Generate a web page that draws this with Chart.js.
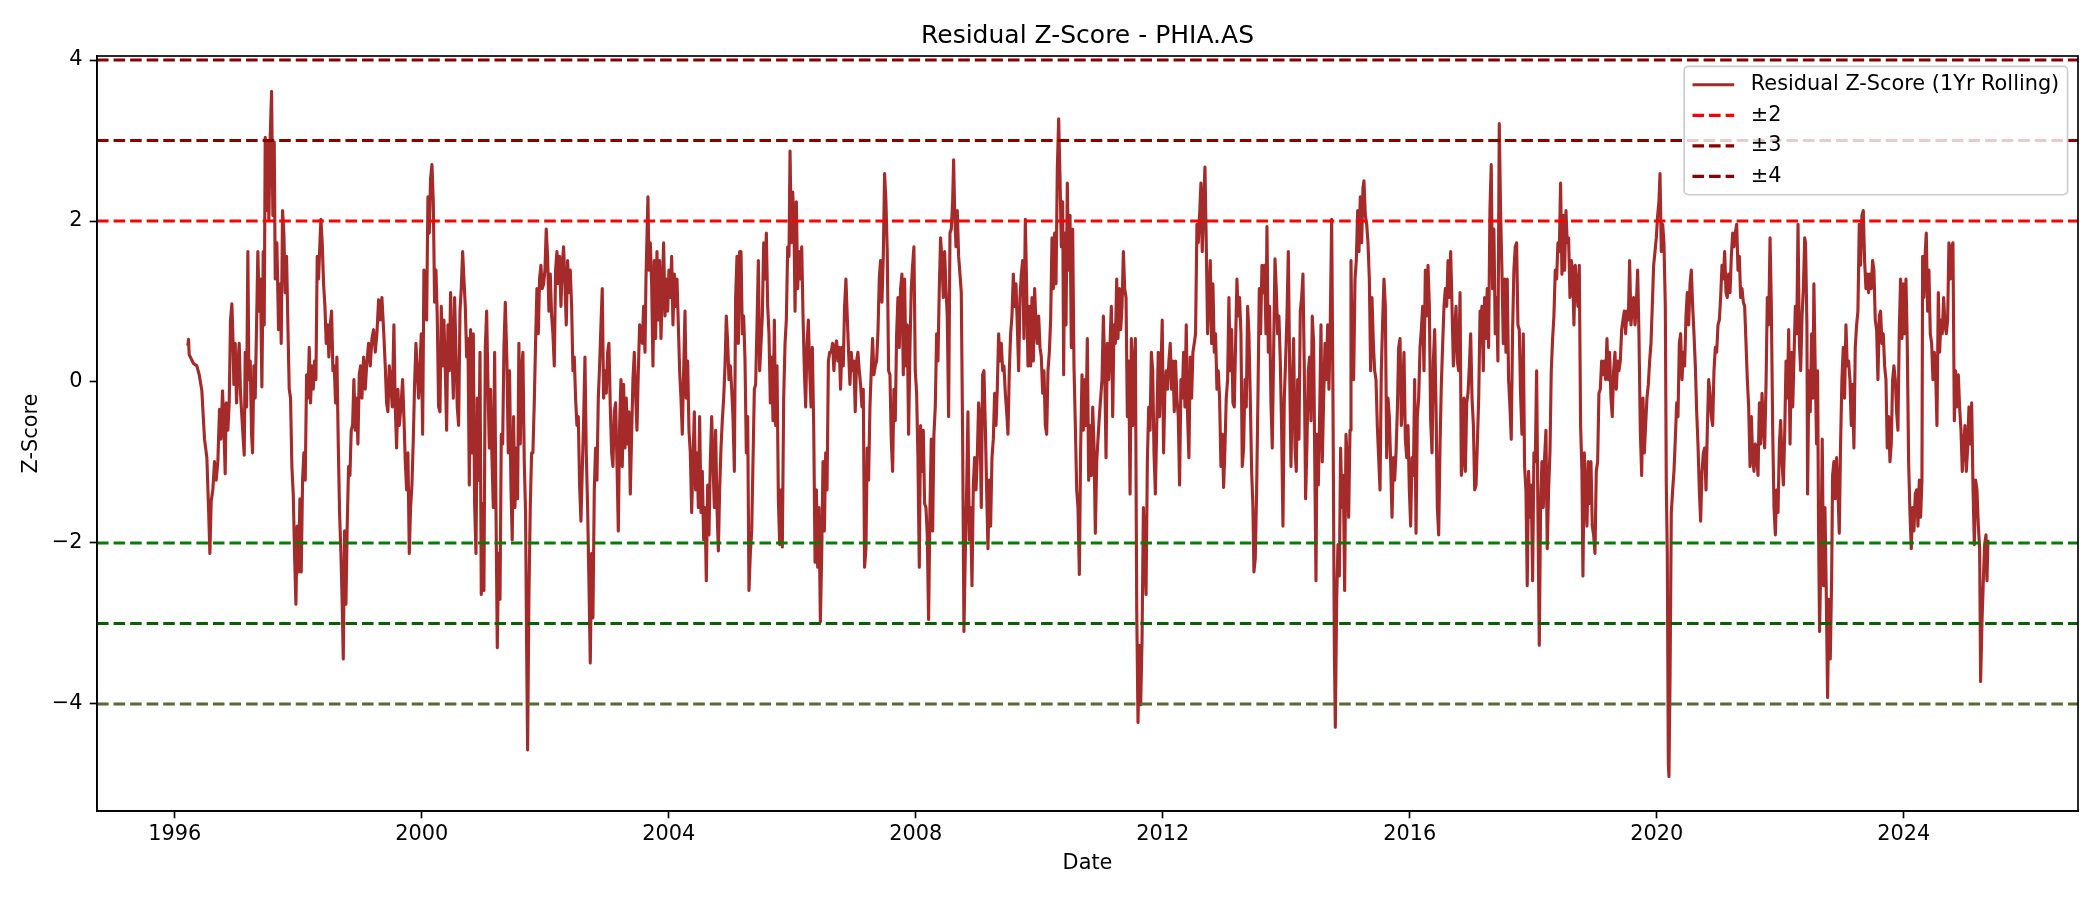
<!DOCTYPE html>
<html>
<head>
<meta charset="utf-8">
<title>Residual Z-Score - PHIA.AS</title>
<script src="https://cdn.jsdelivr.net/npm/chart.js@4.4.1/dist/chart.umd.min.js"></script>
<style>
  html, body { margin: 0; padding: 0; background: #fff; }
  #wrap { width: 2100px; height: 900px; position: relative; }
</style>
</head>
<body>
<div id="wrap"><canvas id="chart"></canvas></div>
<script>
// Residual z-score (1yr rolling).
// Dates are decimal years; each segment covers roughly five years.
const seg1996 = [
  [1996.211,0.45],[1996.222,0.53],[1996.233,0.34],[1996.303,0.23],[1996.357,0.20],[1996.395,0.09],[1996.438,-0.11],[1996.481,-0.71],[1996.519,-0.94],[1996.546,-1.56],
  [1996.568,-2.13],[1996.589,-1.48],[1996.616,-1.34],[1996.643,-0.99],[1996.670,-1.22],[1996.697,-0.99],[1996.724,-0.34],[1996.746,-0.71],[1996.773,-0.11],[1996.800,-0.71],
  [1996.816,-1.14],[1996.832,-0.26],[1996.859,-0.60],[1996.881,-0.26],[1996.902,0.77],[1996.924,0.97],[1996.940,0.60],[1996.956,-0.03],[1996.978,0.48],[1997.000,-0.26],
  [1997.021,0.20],[1997.043,0.48],[1997.064,-0.14],[1997.086,-0.43],[1997.108,-0.71],[1997.124,-0.91],[1997.140,0.37],[1997.162,-0.31],[1997.183,1.62],[1997.199,0.03],
  [1997.221,0.26],[1997.243,-0.65],[1997.259,-0.88],[1997.280,0.20],[1997.302,-0.20],[1997.324,0.71],[1997.345,1.62],[1997.367,0.88],[1997.388,1.28],[1997.410,-0.06],
  [1997.432,1.62],[1997.448,0.71],[1997.464,3.04],[1997.480,2.13],[1997.502,2.98],[1997.523,2.02],[1997.545,3.04],[1997.567,3.61],[1997.588,2.07],[1997.610,2.98],
  [1997.626,1.28],[1997.653,1.73],[1997.680,0.65],[1997.707,1.22],[1997.723,0.48],[1997.745,2.13],[1997.766,1.85],[1997.788,1.11],[1997.810,1.56],[1997.831,0.71],
  [1997.853,-0.09],[1997.874,-0.20],[1997.896,-1.05],[1997.918,-1.39],[1997.939,-2.13],[1997.961,-2.76],[1997.982,-1.79],[1998.004,-2.36],[1998.026,-1.45],[1998.047,-2.36],
  [1998.069,-1.22],[1998.090,-0.88],[1998.112,-1.22],[1998.134,0.09],[1998.155,-0.20],[1998.177,0.43],[1998.198,-0.26],[1998.220,0.20],[1998.242,-0.09],[1998.263,0.26],
  [1998.285,0.03],[1998.306,1.56],[1998.328,1.28],[1998.350,1.73],[1998.366,2.02],[1998.387,1.73],[1998.409,1.22],[1998.431,0.94],[1998.452,0.48],[1998.474,0.71],
  [1998.495,0.31],[1998.517,0.71],[1998.539,0.88],[1998.560,0.14],[1998.582,0.20],[1998.603,-0.26],[1998.625,0.31],[1998.647,-0.77],[1998.668,-1.62],[1998.690,-2.13],
  [1998.711,-2.76],[1998.728,-3.44],[1998.749,-1.85],[1998.771,-2.76],[1998.792,-1.79],[1998.814,-1.05],[1998.836,-1.16],[1998.857,-0.60],[1998.879,-0.54],[1998.900,0.03],
  [1998.922,-0.60],[1998.944,-0.20],[1998.965,-0.77],[1998.987,0.09],[1999.008,0.20],[1999.030,-0.20],[1999.057,0.31],[1999.084,-0.09],[1999.111,0.26],[1999.138,0.48],
  [1999.165,0.20],[1999.192,0.54],[1999.219,0.65],[1999.246,0.37],[1999.273,0.60],[1999.300,1.02],[1999.327,0.77],[1999.354,1.05],[1999.381,0.65],[1999.408,0.20],
  [1999.430,-0.26],[1999.451,-0.37],[1999.473,0.20],[1999.494,0.03],[1999.521,-0.31],[1999.548,0.71],[1999.570,-0.31],[1999.592,-0.82],[1999.613,-0.09],[1999.635,-0.54],
  [1999.662,-0.31],[1999.689,0.03],[1999.710,-0.43],[1999.732,-0.99],[1999.754,-1.34],[1999.775,-0.88],[1999.797,-2.13],[1999.818,-1.56],[1999.840,-1.28],[1999.862,-0.71],
  [1999.883,-0.03],[1999.905,0.48],[1999.926,0.14],[1999.948,-0.20],[1999.970,0.20],[1999.991,0.60],[2000.013,-0.65],[2000.034,1.39],[2000.056,1.28],[2000.078,0.77],
  [2000.099,2.30],[2000.121,1.85],[2000.142,2.53],[2000.164,2.70],[2000.186,2.24],[2000.207,0.99],[2000.229,1.39],[2000.250,0.82],[2000.272,-0.31],[2000.294,-0.37],
  [2000.315,0.94],[2000.337,0.20],[2000.358,0.77],[2000.380,0.14],[2000.402,-0.60],[2000.423,0.71],[2000.445,0.14],[2000.466,1.11],[2000.488,0.37],[2000.510,-0.20],
  [2000.531,1.05],[2000.553,0.37],[2000.574,-0.31],[2000.596,-0.54],[2000.618,0.88],[2000.639,1.16],[2000.661,1.62],[2000.682,1.28],[2000.704,0.94],[2000.726,0.31],
  [2000.747,0.54],[2000.769,-1.28],[2000.790,0.65],[2000.812,-0.88],[2000.834,0.60],[2000.855,-1.51],[2000.877,-2.13],[2000.898,-0.20],[2000.920,-1.22],[2000.942,0.37],
  [2000.963,-2.64],[2000.985,-1.51],[2001.006,-2.59],[2001.028,0.43],[2001.050,0.88],[2001.071,-0.03],[2001.093,-0.82],[2001.114,-0.09],[2001.136,-0.94],[2001.158,-1.56],
  [2001.179,0.37],[2001.201,-1.56],[2001.222,-3.30],[2001.244,-2.13],[2001.266,-2.70],[2001.287,-0.65],[2001.309,-0.77],[2001.330,0.43],[2001.352,0.99],
];
const seg2001 = [
  [2001.378,0.26],[2001.400,-0.88],[2001.421,0.14],[2001.443,-1.28],[2001.464,-1.96],[2001.486,-0.43],[2001.508,-1.56],[2001.529,-0.82],[2001.551,-1.45],[2001.572,0.48],
  [2001.594,-0.77],[2001.616,0.14],[2001.637,0.37],[2001.659,-0.99],[2001.680,-1.62],[2001.697,-3.27],[2001.713,-4.57],[2001.734,-2.70],[2001.756,-1.56],[2001.778,-0.88],
  [2001.799,-0.88],[2001.821,-0.26],[2001.842,0.48],[2001.864,1.16],[2001.886,0.60],[2001.907,1.28],[2001.929,1.45],[2001.950,1.16],[2001.972,1.22],[2001.994,1.39],
  [2002.015,1.90],[2002.037,1.56],[2002.058,0.88],[2002.080,1.34],[2002.102,0.82],[2002.123,0.60],[2002.145,0.20],[2002.166,1.39],[2002.188,1.62],[2002.210,1.22],
  [2002.231,1.56],[2002.253,0.94],[2002.274,1.45],[2002.296,1.68],[2002.318,1.22],[2002.339,0.71],[2002.361,1.51],[2002.382,1.11],[2002.404,1.39],[2002.426,0.94],
  [2002.447,0.14],[2002.469,0.31],[2002.490,-0.20],[2002.512,-0.54],[2002.534,-0.43],[2002.555,-1.28],[2002.577,-1.73],[2002.598,-1.11],[2002.620,-0.48],[2002.642,0.31],
  [2002.663,-0.88],[2002.685,-1.56],[2002.706,-2.47],[2002.728,-3.49],[2002.750,-2.13],[2002.771,-2.93],[2002.793,-1.34],[2002.814,-0.82],[2002.836,-1.22],[2002.858,-0.20],
  [2002.879,0.20],[2002.901,0.71],[2002.922,1.16],[2002.944,-0.20],[2002.966,0.14],[2002.987,-0.14],[2003.009,0.37],[2003.030,0.48],[2003.052,-0.31],[2003.074,-0.88],
  [2003.095,-1.05],[2003.117,-0.37],[2003.138,-0.26],[2003.160,-0.99],[2003.182,-1.85],[2003.203,-0.54],[2003.225,0.03],[2003.246,-1.05],[2003.268,-0.03],[2003.290,-0.82],
  [2003.311,-0.20],[2003.333,-0.77],[2003.354,-0.37],[2003.376,-1.39],[2003.398,-0.65],[2003.419,0.03],[2003.441,0.37],[2003.462,-0.14],[2003.484,-0.60],[2003.506,0.14],
  [2003.527,0.71],[2003.549,0.65],[2003.570,0.48],[2003.592,0.94],[2003.614,0.37],[2003.630,1.28],[2003.646,1.79],[2003.662,2.30],[2003.678,1.39],[2003.700,1.73],
  [2003.722,1.22],[2003.743,0.20],[2003.765,1.51],[2003.786,0.54],[2003.808,1.62],[2003.830,0.77],[2003.851,1.51],[2003.873,0.54],[2003.894,1.16],[2003.916,1.73],
  [2003.938,0.82],[2003.959,1.28],[2003.981,0.88],[2004.002,1.39],[2004.024,1.05],[2004.046,1.56],[2004.067,0.71],[2004.089,1.34],[2004.110,0.94],[2004.132,1.28],
  [2004.154,0.71],[2004.175,0.14],[2004.197,-0.20],[2004.218,-0.65],[2004.240,0.14],[2004.262,0.88],[2004.283,-0.20],[2004.305,0.26],[2004.326,-0.60],[2004.348,-0.88],
  [2004.370,-1.62],[2004.391,-0.99],[2004.413,-0.37],[2004.434,-1.34],[2004.456,-0.88],[2004.478,-1.56],[2004.499,-0.43],[2004.521,-1.62],[2004.542,-1.11],[2004.564,-1.96],
  [2004.586,-1.56],[2004.607,-2.47],[2004.629,-1.28],[2004.650,-1.90],[2004.672,-0.99],[2004.694,-0.43],[2004.715,-0.99],[2004.737,-1.56],[2004.758,-0.60],[2004.780,-1.56],
  [2004.802,-2.10],[2004.823,-1.34],[2004.845,-0.82],[2004.866,-0.48],[2004.888,-0.20],[2004.910,0.20],[2004.931,0.82],[2004.953,0.48],[2004.974,0.03],[2004.996,0.20],
  [2005.018,-0.09],[2005.039,-0.43],[2005.061,-1.11],[2005.082,1.05],[2005.104,1.56],[2005.126,0.48],[2005.147,1.62],[2005.169,1.62],[2005.190,0.60],[2005.212,0.82],
  [2005.234,0.26],[2005.255,-0.88],[2005.277,-0.43],[2005.298,-2.59],[2005.320,-2.13],[2005.342,-1.85],[2005.363,-0.99],[2005.385,-0.09],[2005.406,-0.03],[2005.428,0.71],
  [2005.450,1.51],[2005.471,0.14],[2005.493,0.48],[2005.514,0.82],[2005.536,1.73],[2005.558,1.28],[2005.579,1.85],[2005.601,0.94],[2005.622,0.60],[2005.644,-0.26],
  [2005.666,0.31],[2005.687,-0.48],[2005.709,0.77],[2005.730,-0.54],[2005.752,0.20],[2005.774,-1.45],[2005.795,-2.02],[2005.817,-1.34],[2005.838,-2.05],[2005.860,-0.20],
  [2005.882,0.48],[2005.903,0.77],[2005.925,1.68],[2005.946,1.56],[2005.963,2.87],[2005.984,1.73],[2006.006,2.36],[2006.027,1.96],[2006.044,0.88],[2006.065,2.24],
  [2006.087,1.16],[2006.108,1.62],[2006.130,1.28],[2006.152,1.68],[2006.173,0.82],[2006.195,0.14],[2006.216,-0.31],[2006.238,0.48],[2006.260,0.77],[2006.281,0.14],
  [2006.303,-0.31],[2006.324,0.43],[2006.346,-0.54],[2006.368,-2.24],[2006.389,-1.34],[2006.411,-2.30],[2006.432,-1.56],[2006.454,-2.98],[2006.476,-2.13],[2006.497,-0.99],
  [2006.519,-1.85],[2006.540,-0.88],[2006.562,-1.34],[2006.584,0.26],[2006.605,0.37],
];
const seg2006 = [
  [2006.630,0.37],[2006.652,0.48],[2006.673,0.14],[2006.695,0.43],[2006.717,0.51],[2006.738,0.26],[2006.760,0.43],[2006.781,-0.09],[2006.803,0.43],[2006.825,0.20],
  [2006.846,0.94],[2006.868,1.28],[2006.889,0.82],[2006.911,0.37],[2006.933,-0.03],[2006.954,0.37],[2006.976,0.14],[2006.997,0.26],[2007.019,-0.37],[2007.041,0.26],
  [2007.062,0.37],[2007.084,0.14],[2007.105,-0.03],[2007.127,-0.31],[2007.149,-0.09],[2007.170,-2.30],[2007.192,-2.07],[2007.213,-0.82],[2007.235,-1.22],[2007.257,-0.31],
  [2007.278,0.14],[2007.300,0.54],[2007.321,0.09],[2007.343,0.20],[2007.365,0.26],[2007.386,0.60],[2007.408,1.28],[2007.429,1.51],[2007.451,0.99],[2007.473,1.56],
  [2007.494,2.59],[2007.516,2.24],[2007.537,1.62],[2007.559,0.14],[2007.581,0.09],[2007.602,-0.71],[2007.624,-1.11],[2007.645,-0.09],[2007.667,-0.48],[2007.689,0.60],
  [2007.710,1.05],[2007.732,0.43],[2007.753,1.16],[2007.775,1.34],[2007.797,0.09],[2007.818,1.28],[2007.840,0.20],[2007.861,0.71],[2007.883,-0.65],[2007.905,0.43],
  [2007.926,1.16],[2007.948,1.45],[2007.969,1.68],[2007.991,0.14],[2008.013,-0.14],[2008.034,-0.94],[2008.056,-2.30],[2008.077,-0.54],[2008.099,-1.11],[2008.121,-0.60],
  [2008.142,-1.51],[2008.164,-1.56],[2008.185,-1.90],[2008.207,-2.95],[2008.229,-1.56],[2008.250,-0.71],[2008.272,-1.85],[2008.293,-0.65],[2008.315,-0.31],[2008.337,0.60],
  [2008.358,0.26],[2008.380,1.16],[2008.401,1.79],[2008.423,1.51],[2008.445,1.05],[2008.466,1.62],[2008.488,1.16],[2008.509,0.82],[2008.531,-0.43],[2008.553,1.85],
  [2008.574,1.90],[2008.596,2.24],[2008.612,2.76],[2008.628,2.13],[2008.650,1.68],[2008.671,2.13],[2008.693,1.56],[2008.715,1.34],[2008.736,1.11],[2008.758,-0.71],
  [2008.779,-3.10],[2008.801,-2.13],[2008.823,-1.34],[2008.844,-0.37],[2008.866,-1.96],[2008.887,-1.56],[2008.909,-2.53],[2008.931,-1.28],[2008.952,-0.94],[2008.974,-1.34],
  [2008.995,-0.94],[2009.017,-0.26],[2009.039,-0.48],[2009.060,-1.56],[2009.082,0.09],[2009.103,0.14],[2009.125,-0.54],[2009.147,-1.34],[2009.168,-2.07],[2009.190,-1.22],
  [2009.211,-1.79],[2009.233,-0.94],[2009.255,-0.71],[2009.276,-0.14],[2009.298,-0.54],[2009.319,-0.09],[2009.341,0.60],[2009.363,0.26],[2009.384,0.48],[2009.406,0.14],
  [2009.427,0.20],[2009.449,-0.14],[2009.471,-0.37],[2009.492,-0.65],[2009.514,0.14],[2009.535,0.60],[2009.557,0.82],[2009.579,1.34],[2009.600,0.94],[2009.622,1.22],
  [2009.643,0.71],[2009.665,0.14],[2009.687,1.05],[2009.708,1.34],[2009.730,1.51],[2009.751,0.54],[2009.773,2.02],[2009.795,1.16],[2009.816,0.20],[2009.838,0.94],
  [2009.859,0.20],[2009.881,1.05],[2009.903,0.26],[2009.924,1.16],[2009.946,0.71],[2009.967,0.48],[2009.989,0.82],[2010.011,0.43],[2010.032,0.31],[2010.054,-0.14],
  [2010.075,0.14],[2010.097,-0.54],[2010.119,-0.65],[2010.140,0.14],[2010.162,0.37],[2010.183,0.77],[2010.205,1.79],[2010.227,1.16],[2010.248,1.85],[2010.270,1.22],
  [2010.291,2.64],[2010.313,3.27],[2010.335,2.53],[2010.356,1.68],[2010.378,2.24],[2010.394,0.09],[2010.410,1.85],[2010.432,0.71],[2010.453,2.47],[2010.475,1.39],
  [2010.497,2.07],[2010.518,0.43],[2010.540,1.90],[2010.561,0.20],[2010.583,-0.54],[2010.605,-1.34],[2010.626,-1.56],[2010.648,-2.39],[2010.669,-0.82],[2010.691,0.09],
  [2010.713,-0.60],[2010.734,0.03],[2010.756,-0.54],[2010.777,0.54],[2010.799,-1.22],[2010.821,-0.54],[2010.842,-1.16],[2010.864,-0.31],[2010.885,-0.77],[2010.907,-1.88],
  [2010.929,-0.99],[2010.950,-0.71],[2010.972,-0.43],[2010.993,-0.20],[2011.015,0.03],[2011.037,0.82],[2011.058,0.20],[2011.080,-0.94],[2011.101,0.48],[2011.123,0.03],
  [2011.145,0.48],[2011.166,0.94],[2011.188,-0.43],[2011.209,0.71],[2011.231,0.48],[2011.253,1.28],[2011.274,0.54],[2011.296,1.16],[2011.317,0.65],[2011.339,0.94],
  [2011.361,1.62],[2011.382,1.16],[2011.404,1.05],[2011.425,-0.43],[2011.447,0.26],[2011.469,-1.39],[2011.490,0.54],[2011.512,-0.54],[2011.533,0.20],[2011.555,0.54],
  [2011.577,-2.81],[2011.598,-4.23],[2011.620,-3.27],[2011.641,-4.01],[2011.663,-3.21],[2011.685,-1.56],[2011.706,-2.07],[2011.728,-2.64],[2011.749,-0.99],[2011.771,-0.31],
  [2011.793,-0.60],[2011.814,0.37],[2011.836,0.14],[2011.857,-0.88],[2011.879,-1.39],
];
const seg2011 = [
  [2011.904,-0.43],[2011.926,0.37],[2011.947,-0.43],[2011.969,0.14],[2011.990,0.77],[2012.012,-0.88],[2012.034,-0.09],[2012.055,0.14],[2012.077,-0.09],[2012.098,0.26],
  [2012.120,0.48],[2012.142,-0.09],[2012.163,0.26],[2012.185,-0.37],[2012.206,0.26],[2012.228,-0.20],[2012.250,-0.43],[2012.271,-1.28],[2012.293,0.03],[2012.314,-0.20],
  [2012.336,0.37],[2012.358,-0.31],[2012.379,0.71],[2012.401,-0.43],[2012.422,-0.94],[2012.444,0.31],[2012.466,-0.20],[2012.487,0.37],[2012.509,0.48],[2012.530,0.60],
  [2012.552,1.96],[2012.574,1.73],[2012.595,2.07],[2012.617,2.47],[2012.638,1.62],[2012.660,2.19],[2012.682,2.67],[2012.703,1.73],[2012.725,0.60],[2012.746,1.05],
  [2012.768,1.51],[2012.790,0.48],[2012.811,1.22],[2012.833,0.37],[2012.854,0.60],[2012.876,-0.09],[2012.898,0.14],[2012.919,-0.20],[2012.941,-1.05],[2012.962,-0.65],
  [2012.984,-1.31],[2013.006,-0.82],[2013.027,-0.20],[2013.049,0.03],[2013.070,1.05],[2013.092,0.14],[2013.114,0.65],[2013.135,-0.26],[2013.157,-0.31],[2013.178,0.48],
  [2013.200,1.28],[2013.222,0.82],[2013.243,1.05],[2013.265,0.60],[2013.286,-1.05],[2013.308,-0.82],[2013.330,0.03],[2013.351,-0.31],[2013.373,0.94],[2013.394,0.60],
  [2013.416,-0.20],[2013.438,-1.11],[2013.459,-1.56],[2013.475,-2.36],[2013.497,-2.19],[2013.519,-1.34],[2013.540,-0.20],[2013.562,1.16],[2013.583,0.60],[2013.605,1.45],
  [2013.627,1.11],[2013.648,1.45],[2013.670,0.60],[2013.686,1.93],[2013.708,0.37],[2013.729,0.94],[2013.751,-0.26],[2013.772,-0.82],[2013.794,0.37],[2013.816,1.53],
  [2013.837,1.16],[2013.859,0.60],[2013.880,0.82],[2013.902,0.26],[2013.924,-0.60],[2013.945,-1.79],[2013.967,-0.20],[2013.988,0.26],[2014.010,0.82],[2014.032,1.62],
  [2014.053,0.20],[2014.075,-1.05],[2014.096,-0.09],[2014.118,0.54],[2014.140,-0.82],[2014.161,-1.11],[2014.183,0.03],[2014.204,-0.71],[2014.226,0.88],[2014.248,1.05],
  [2014.269,1.34],[2014.291,0.14],[2014.312,-1.45],[2014.334,-0.77],[2014.356,0.14],[2014.377,0.31],[2014.399,-0.48],[2014.420,0.82],[2014.442,0.48],[2014.464,-1.28],
  [2014.480,-2.47],[2014.496,-0.65],[2014.518,-1.28],[2014.539,-0.43],[2014.561,0.71],[2014.582,-0.99],[2014.604,-0.20],[2014.626,0.48],[2014.647,0.03],[2014.669,0.71],
  [2014.690,-0.09],[2014.712,0.77],[2014.734,2.02],[2014.755,-0.20],[2014.777,-3.27],[2014.793,-4.29],[2014.815,-2.70],[2014.836,-2.02],[2014.858,-2.41],[2014.879,-0.82],
  [2014.901,-1.56],[2014.923,-1.16],[2014.944,-2.59],[2014.966,-0.65],[2014.987,-0.99],[2015.009,-1.68],[2015.031,-0.60],[2015.047,1.51],[2015.068,0.20],[2015.090,0.03],
  [2015.112,1.28],[2015.133,1.51],[2015.155,2.13],[2015.176,1.62],[2015.198,2.30],[2015.220,1.73],[2015.241,2.41],[2015.257,2.50],[2015.279,2.07],[2015.301,1.96],
  [2015.322,1.73],[2015.344,1.28],[2015.365,0.14],[2015.387,1.05],[2015.409,0.48],[2015.430,0.14],[2015.452,0.03],[2015.473,-0.54],[2015.495,-0.94],[2015.517,-1.34],
  [2015.538,0.14],[2015.560,0.77],[2015.581,1.28],[2015.603,0.94],[2015.625,-0.94],[2015.646,-0.20],[2015.668,-0.43],[2015.689,-0.99],[2015.711,-1.68],[2015.733,-0.94],
  [2015.754,-1.22],[2015.776,-0.88],[2015.797,-0.37],[2015.819,0.43],[2015.841,0.54],[2015.862,-0.54],[2015.884,-0.20],[2015.905,0.37],[2015.927,-0.71],[2015.949,-0.94],
  [2015.970,-0.54],[2015.992,-1.34],[2016.013,-1.79],[2016.035,-0.94],[2016.057,-1.16],[2016.078,0.03],[2016.100,-1.88],[2016.121,-0.43],[2016.143,-0.20],[2016.165,0.43],
  [2016.186,0.65],[2016.208,0.94],[2016.229,0.14],[2016.251,1.39],[2016.273,0.82],[2016.294,1.45],[2016.316,0.94],[2016.337,-0.48],[2016.359,-0.88],[2016.381,0.26],
  [2016.402,0.65],[2016.424,-0.31],[2016.445,-1.56],[2016.467,-1.90],[2016.489,-0.77],[2016.510,-0.03],[2016.532,0.48],[2016.553,0.94],[2016.575,1.16],[2016.597,0.94],
  [2016.618,1.51],[2016.640,1.05],[2016.661,1.62],[2016.683,0.94],[2016.705,0.20],[2016.726,0.60],[2016.748,0.94],[2016.769,0.26],[2016.791,0.14],[2016.813,1.11],
  [2016.834,-1.16],[2016.856,-0.94],[2016.877,-0.20],[2016.899,-1.11],[2016.921,-0.26],[2016.942,-0.14],[2016.964,0.20],[2016.985,0.60],[2017.007,-0.20],[2017.029,-0.54],
  [2017.050,-1.34],[2017.072,-1.28],[2017.093,-0.77],[2017.115,-0.20],[2017.137,0.88],
];
const seg2017 = [
  [2017.145,0.60],[2017.167,0.94],[2017.189,0.14],[2017.210,1.05],[2017.232,0.54],[2017.253,1.16],[2017.275,0.43],[2017.297,2.13],[2017.318,2.70],[2017.340,1.16],
  [2017.361,1.90],[2017.383,0.60],[2017.405,1.05],[2017.426,0.26],[2017.448,3.21],[2017.469,2.13],[2017.491,1.39],[2017.513,0.48],[2017.534,1.28],[2017.556,0.37],
  [2017.577,1.28],[2017.599,0.03],[2017.621,-0.31],[2017.642,-0.71],[2017.664,0.65],[2017.685,1.39],[2017.707,1.68],[2017.729,1.73],[2017.750,0.71],[2017.772,0.65],
  [2017.793,-0.14],[2017.815,-0.65],[2017.837,0.60],[2017.858,-1.05],[2017.880,-1.34],[2017.901,-2.53],[2017.923,-1.11],[2017.945,-1.68],[2017.966,-1.28],[2017.988,-2.47],
  [2018.009,-0.88],[2018.031,-0.99],[2018.053,0.14],[2018.074,-1.62],[2018.096,-3.27],[2018.117,-1.56],[2018.139,-0.99],[2018.161,-1.56],[2018.182,-0.94],[2018.204,-0.60],
  [2018.225,-2.07],[2018.247,-1.34],[2018.269,-0.88],[2018.290,0.14],[2018.312,0.54],[2018.333,0.82],[2018.355,1.39],[2018.377,1.28],[2018.398,1.73],[2018.420,1.62],
  [2018.441,2.47],[2018.463,1.34],[2018.485,2.07],[2018.506,1.39],[2018.528,2.13],[2018.549,1.73],[2018.571,1.79],[2018.593,1.05],[2018.614,1.51],[2018.636,1.39],
  [2018.657,0.71],[2018.679,1.45],[2018.701,1.16],[2018.722,0.94],[2018.744,1.45],[2018.765,-0.54],[2018.787,-1.11],[2018.803,-2.41],[2018.825,-0.88],[2018.846,-1.34],
  [2018.868,-1.79],[2018.890,-0.99],[2018.911,-1.51],[2018.933,-0.99],[2018.954,-1.79],[2018.976,-1.90],[2018.998,-2.13],[2019.019,-1.11],[2019.041,-0.99],[2019.062,-0.14],
  [2019.084,-0.09],[2019.106,0.26],[2019.127,0.09],[2019.149,0.26],[2019.170,0.03],[2019.192,0.54],[2019.214,0.03],[2019.235,0.37],[2019.257,-0.20],[2019.278,-0.43],
  [2019.300,0.14],[2019.322,0.37],[2019.343,-0.09],[2019.365,0.26],[2019.386,0.14],[2019.408,0.26],[2019.430,0.65],[2019.451,0.77],[2019.473,0.88],[2019.494,0.60],
  [2019.516,0.88],[2019.538,0.77],[2019.559,1.51],[2019.581,0.71],[2019.602,0.94],[2019.624,1.05],[2019.646,0.71],[2019.667,0.94],[2019.689,1.39],[2019.710,0.60],
  [2019.732,-0.60],[2019.754,-1.16],[2019.775,-0.20],[2019.797,-0.88],[2019.818,-0.54],[2019.840,-0.20],[2019.862,-0.03],[2019.883,0.26],[2019.905,0.48],[2019.926,0.94],
  [2019.948,1.45],[2019.970,1.62],[2019.991,1.79],[2020.013,2.07],[2020.034,2.24],[2020.051,2.59],[2020.072,1.62],[2020.094,1.96],[2020.115,1.73],[2020.137,0.94],
  [2020.153,-1.28],[2020.169,-2.13],[2020.186,-4.74],[2020.196,-4.90],[2020.213,-3.72],[2020.234,-1.62],[2020.256,-1.34],[2020.277,-1.11],[2020.299,-0.71],[2020.321,-0.26],
  [2020.342,-0.43],[2020.364,0.48],[2020.385,0.60],[2020.407,0.03],[2020.429,0.37],[2020.450,0.20],[2020.472,0.82],[2020.493,1.11],[2020.515,0.71],[2020.537,1.22],
  [2020.558,1.39],[2020.580,0.94],[2020.601,0.60],[2020.623,0.20],[2020.645,-0.37],[2020.666,-0.77],[2020.688,-1.34],[2020.709,-1.73],[2020.731,-1.11],[2020.753,-0.88],
  [2020.774,-0.82],[2020.796,-1.34],[2020.817,-0.60],[2020.839,0.03],[2020.861,-0.14],[2020.882,-0.43],[2020.904,-0.54],[2020.925,0.14],[2020.947,0.43],[2020.969,0.37],
  [2020.990,0.71],[2021.012,0.77],[2021.033,1.05],[2021.055,1.45],[2021.077,1.28],[2021.098,1.62],[2021.120,1.11],[2021.141,1.05],[2021.163,1.34],[2021.185,1.11],
  [2021.206,1.56],[2021.228,1.85],[2021.249,1.68],[2021.271,1.85],[2021.293,1.96],[2021.314,1.39],[2021.336,1.56],[2021.357,1.05],[2021.379,1.16],[2021.401,0.99],
  [2021.422,0.94],[2021.444,0.48],[2021.465,0.03],[2021.487,-0.31],[2021.509,-1.05],[2021.530,-0.43],[2021.552,-0.94],[2021.573,-1.11],[2021.595,-0.77],[2021.617,-0.88],
  [2021.638,-1.16],[2021.660,-0.26],[2021.681,-0.77],[2021.703,-0.14],[2021.725,-0.54],[2021.746,-0.82],[2021.768,-0.03],[2021.789,1.05],[2021.811,0.71],[2021.833,1.79],
  [2021.854,0.94],[2021.876,-0.60],[2021.897,-1.56],[2021.919,-1.90],[2021.941,-1.34],[2021.962,-1.62],[2021.984,-0.77],[2022.005,-0.48],[2022.027,-0.99],[2022.049,-1.28],
  [2022.070,-0.65],[2022.092,0.26],[2022.113,-0.20],[2022.135,0.65],[2022.157,-0.77],[2022.178,0.37],[2022.200,-0.31],[2022.221,0.31],[2022.243,0.94],[2022.265,0.60],
  [2022.286,1.96],[2022.308,0.48],[2022.329,0.14],[2022.351,0.82],[2022.373,1.16],[2022.394,1.79],
];
const seg2022 = [
  [2022.408,1.73],[2022.430,0.71],[2022.441,-1.39],[2022.462,0.14],[2022.484,-0.37],[2022.506,0.60],[2022.527,-0.20],[2022.543,1.22],[2022.565,0.14],[2022.587,-0.77],
  [2022.603,0.14],[2022.619,-1.85],[2022.635,-3.10],[2022.657,-2.13],[2022.678,-0.71],[2022.700,-2.53],[2022.722,-1.56],[2022.743,-2.59],[2022.765,-3.92],[2022.786,-2.70],
  [2022.808,-3.44],[2022.830,-2.47],[2022.846,-1.16],[2022.867,-0.99],[2022.889,-1.45],[2022.911,-0.94],[2022.932,-1.34],[2022.954,-1.88],[2022.975,-0.77],[2022.997,0.03],
  [2023.019,0.43],[2023.040,-0.20],[2023.062,0.71],[2023.083,0.20],[2023.105,0.26],[2023.127,0.03],[2023.148,-0.54],[2023.170,-0.03],[2023.191,-0.82],[2023.213,0.43],
  [2023.235,0.71],[2023.256,0.88],[2023.278,1.96],[2023.299,1.45],[2023.321,2.07],[2023.343,2.13],[2023.364,1.51],[2023.386,1.16],[2023.407,1.34],[2023.429,1.11],
  [2023.451,1.34],[2023.472,1.16],[2023.494,1.51],[2023.515,1.39],[2023.537,0.77],[2023.559,0.65],[2023.580,0.03],[2023.602,0.82],[2023.623,0.88],[2023.645,0.48],
  [2023.667,0.60],[2023.688,0.20],[2023.710,0.03],[2023.731,-0.82],[2023.753,-0.43],[2023.775,-0.99],[2023.796,-0.77],[2023.818,0.03],[2023.839,0.20],[2023.861,0.03],
  [2023.883,-0.37],[2023.904,-0.60],[2023.926,0.65],[2023.947,1.28],[2023.969,0.54],[2023.991,1.22],[2024.012,0.60],[2024.034,1.28],[2024.055,0.48],[2024.077,-0.99],
  [2024.099,-1.62],[2024.120,-2.07],[2024.142,-1.56],[2024.163,-1.85],[2024.185,-1.39],[2024.207,-1.34],[2024.228,-1.79],[2024.250,-1.22],[2024.271,-1.68],[2024.293,-1.22],
  [2024.304,1.56],[2024.325,1.05],[2024.347,1.62],[2024.363,1.85],[2024.385,0.88],[2024.406,1.39],[2024.428,0.60],[2024.450,0.48],[2024.471,0.03],[2024.493,0.37],
  [2024.514,0.14],[2024.536,-0.54],[2024.558,1.11],[2024.579,0.37],[2024.601,0.77],[2024.622,0.60],[2024.644,1.05],[2024.666,0.71],[2024.687,0.60],[2024.709,0.77],
  [2024.730,1.73],[2024.752,1.28],[2024.774,1.68],[2024.795,1.73],[2024.817,-0.48],[2024.838,0.14],[2024.860,-0.31],[2024.882,0.09],[2024.903,-0.31],[2024.925,-0.60],
  [2024.946,-1.11],[2024.968,-0.77],[2024.990,-0.54],[2025.011,-1.11],[2025.033,-0.82],[2025.054,-0.31],[2025.076,-0.77],[2025.098,-0.26],[2025.119,-1.28],[2025.141,-2.02],
  [2025.162,-1.22],[2025.184,-1.34],[2025.206,-1.79],[2025.227,-2.07],[2025.243,-3.72],[2025.265,-2.98],[2025.287,-2.47],[2025.308,-2.02],[2025.330,-1.90],[2025.346,-2.47],
  [2025.362,-1.96],
];

// Threshold levels drawn as dashed horizontal lines, plus axis ticks and limits.
const bandLevels = [2, 3, 4];
const upperColors = ['#ff0000', '#8b0000', '#8b0000'];
const lowerColors = ['#008000', '#006400', '#556b2f'];
const yearTicks = [1996, 2000, 2004, 2008, 2012, 2016, 2020, 2024];
const zTicks = [-4, -2, 0, 2, 4];
const xMin = 1994.74, xMax = 2026.82;
const yMin = -5.33, yMax = 4.05;

const PT = 150 / 72; // the figure was rendered at 150 dpi (14 x 6 in)
const FONT = "'DejaVu Sans', 'Liberation Sans', sans-serif";
const FS = 10 * PT;

Chart.defaults.font.family = FONT;
Chart.defaults.color = '#000';

const zscore = [seg1996, seg2001, seg2006, seg2011, seg2017, seg2022]
  .flat()
  .map(([x, y]) => ({ x, y }));

const dash = [3.7 * 1.5 * PT, 1.6 * 1.5 * PT];
const hline = (y, color, label, inLegend) => ({
  label, inLegend,
  data: [{ x: xMin, y }, { x: xMax, y }],
  borderColor: color, borderWidth: 1.5 * PT, borderDash: dash,
  borderCapStyle: 'butt', pointRadius: 0, order: 0,
});

const datasets = [{
  label: 'Residual Z-Score (1Yr Rolling)', inLegend: true,
  data: zscore,
  borderColor: '#a52a2a', borderWidth: 1.5 * PT,
  borderJoinStyle: 'round', pointRadius: 0, tension: 0, order: 1,
}];
bandLevels.forEach((lvl, i) => {
  datasets.push(hline(lvl, upperColors[i], `\u00b1${lvl}`, true));
  datasets.push(hline(-lvl, lowerColors[i], `-${lvl}`, false));
});

// top/right spines, like the matplotlib frame
const frame = {
  id: 'frame',
  afterDatasetsDraw(chart) {
    const { ctx, chartArea: a } = chart;
    ctx.save();
    ctx.strokeStyle = '#000';
    ctx.lineWidth = 0.8 * PT;
    ctx.strokeRect(a.left, a.top, a.right - a.left, a.bottom - a.top);
    ctx.restore();
  },
};

// legend inside the axes, upper right, semi-opaque white box
const innerLegend = {
  id: 'innerLegend',
  afterDraw(chart) {
    const { ctx, chartArea: a } = chart;
    const items = chart.data.datasets.filter((d) => d.inLegend);
    ctx.save();
    ctx.font = `${FS}px ${FONT}`;
    const textW = Math.max(...items.map((d) => ctx.measureText(d.label).width));
    const pad = 0.4 * FS, handle = 2 * FS, gap = 0.8 * FS, rowH = 0.965 * FS, pitch = rowH + 0.5 * FS;
    const w = pad * 2 + handle + gap + textW;
    const h = pad * 2 + rowH + pitch * (items.length - 1);
    const x = a.right - 0.5 * FS - w;
    const y = a.top + 0.5 * FS;

    ctx.beginPath();
    ctx.roundRect(x, y, w, h, 0.2 * FS);
    ctx.fillStyle = 'rgba(255,255,255,0.8)';
    ctx.fill();
    ctx.strokeStyle = '#cccccc';
    ctx.lineWidth = 0.8 * PT;
    ctx.stroke();

    items.forEach((d, i) => {
      const cy = y + pad + rowH / 2 + i * pitch;
      ctx.beginPath();
      ctx.setLineDash(d.borderDash || []);
      ctx.strokeStyle = d.borderColor;
      ctx.lineWidth = d.borderWidth;
      ctx.moveTo(x + pad, cy);
      ctx.lineTo(x + pad + handle, cy);
      ctx.stroke();
      ctx.setLineDash([]);
      ctx.fillStyle = '#000';
      ctx.textBaseline = 'middle';
      ctx.fillText(d.label, x + pad + handle + gap, cy);
    });
    ctx.restore();
  },
};

const axisCommon = {
  grid: { drawOnChartArea: false, drawTicks: true, tickLength: 3.5 * PT, tickColor: '#000', tickWidth: 0.8 * PT },
  border: { display: true, color: '#000', width: 0.8 * PT },
};

new Chart(document.getElementById('chart'), {
  type: 'line',
  data: { datasets },
  plugins: [frame, innerLegend],
  options: {
    responsive: true,
    maintainAspectRatio: false,
    animation: false,
    parsing: false,
    events: [],
    layout: { padding: { left: 0, right: 22, top: 0, bottom: 0 } },
    plugins: {
      legend: { display: false },
      tooltip: { enabled: false },
      title: {
        display: true, text: 'Residual Z-Score - PHIA.AS', fullSize: false,
        font: { size: 12 * PT, weight: 'normal' }, color: '#000',
        padding: { top: 21, bottom: 5 },
      },
    },
    scales: {
      x: {
        ...axisCommon,
        type: 'linear', min: xMin, max: xMax,
        afterBuildTicks: (s) => { s.ticks = yearTicks.map((v) => ({ value: v })); },
        afterFit: (s) => { s.height = 89; },
        ticks: { callback: (v) => String(v), font: { size: FS }, color: '#000', padding: 3.5, maxRotation: 0, autoSkip: false },
        title: { display: true, text: 'Date', font: { size: FS }, color: '#000', padding: { top: 0, bottom: 23.5 } },
      },
      y: {
        ...axisCommon,
        type: 'linear', min: yMin, max: yMax,
        afterBuildTicks: (s) => { s.ticks = zTicks.map((v) => ({ value: v })); },
        afterFit: (s) => { s.width = 97; },
        ticks: { callback: (v) => String(v).replace('-', '\u2212'), font: { size: FS }, color: '#000', padding: 3.5 * PT },
        title: { display: true, text: 'Z-Score', font: { size: FS }, color: '#000', padding: { top: 19.5, bottom: 0 } },
      },
    },
  },
});
</script>
</body>
</html>
